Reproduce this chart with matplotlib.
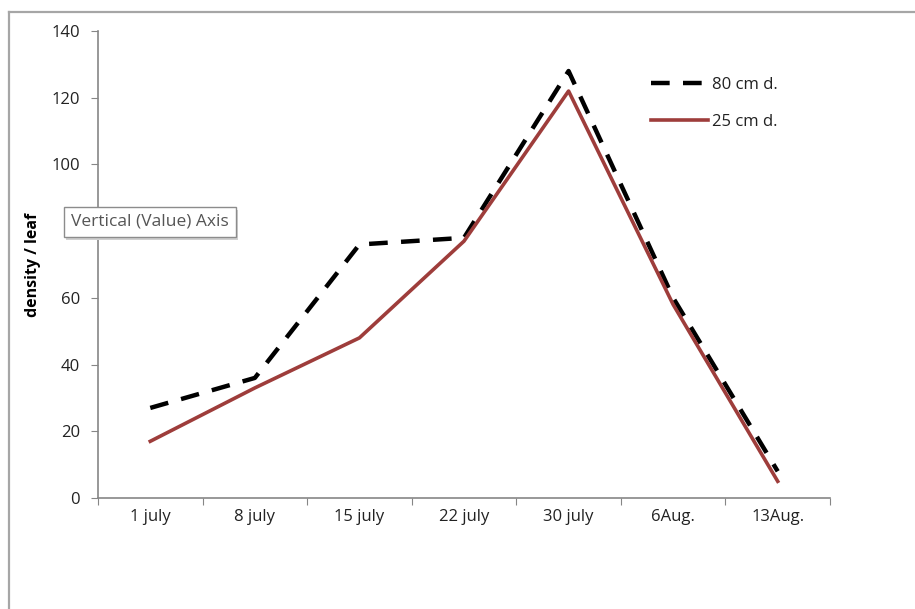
import numpy as np
import matplotlib.pyplot as plt
from matplotlib.lines import Line2D

plt.rcParams['font.family'] = ['Open Sans', 'DejaVu Sans']

# data
dates = ['1 july', '8 july', '15 july', '22 july', '30 july', '6Aug.', '13Aug.']
d80 = [27, 36, 76, 78, 128, 60, 8]
d25 = [17, 33, 48, 77, 122, 58, 5]
yticks = [0, 20, 40, 60, 80, 100, 120, 140]
# the "80" label is hidden under the hover tooltip in the screenshot
ylabels = ['0', '20', '40', '60', '', '100', '120', '140']

axis_grey = '#868686'
red = '#9E3D3B'
fs = 12

fig = plt.figure(figsize=(9.15, 6.09), dpi=100)
ax = fig.add_axes([98 / 915, 1 - 498 / 609, 732 / 915, 467 / 609])

x = np.arange(len(dates))
ax.plot(x, d80, color='black', linewidth=3.2, dashes=(4.2, 3.0),
        solid_capstyle='butt', dash_capstyle='butt', label='80 cm d.', zorder=3)
ax.plot(x, d25, color=red, linewidth=2.6, label='25 cm d.', zorder=4)

ax.set_xlim(-0.5, len(dates) - 0.5)
ax.set_ylim(0, 140)

# category boundaries get tick marks, labels sit in the middle
ax.set_xticks(np.arange(-0.5, len(dates), 1.0))
ax.set_xticklabels([])
ax.set_xticks(x, minor=True)
ax.set_xticklabels(dates, minor=True)
ax.tick_params(axis='x', which='major', direction='out', length=5, color=axis_grey)
ax.tick_params(axis='x', which='minor', length=0, pad=8, labelsize=fs, labelcolor='#222222')

ax.set_yticks(yticks)
ax.set_yticklabels(ylabels)
ax.tick_params(axis='y', direction='out', length=5, color=axis_grey, pad=8,
               labelsize=fs, labelcolor='#222222')

for side in ['top', 'right']:
    ax.spines[side].set_visible(False)
for side in ['left', 'bottom']:
    ax.spines[side].set_color(axis_grey)
    ax.spines[side].set_linewidth(1.2)

ax.set_ylabel('density / leaf', fontsize=11.5, fontweight='bold')
ax.yaxis.set_label_coords((41 - 98) / 732, 0.5)

leg = ax.legend(loc='upper left', bbox_to_anchor=(538 / 732, 1 - 31 / 467),
                frameon=False, handlelength=3.4, handletextpad=0.25,
                labelspacing=1.25, fontsize=fs)
for t in leg.get_texts():
    t.set_color('#222222')

# chart area border (top and left edges visible in the screenshot)
fig.add_artist(Line2D([9 / 915, 1.0], [1 - 11.5 / 609] * 2, color='#A6A6A6',
                      linewidth=1.6, transform=fig.transFigure))
fig.add_artist(Line2D([9 / 915] * 2, [0, 1 - 11.5 / 609], color='#A6A6A6',
                      linewidth=1.6, transform=fig.transFigure))

# hover tooltip over the value axis, with a soft shadow
fig.text(152 / 915, 1 - 225 / 609, 'Vertical (Value) Axis', ha='center', va='center',
         fontsize=12.5, color='#D8D8D8', zorder=9, alpha=0.0,
         bbox=dict(boxstyle='square,pad=0.4', facecolor='#D0D0D0', edgecolor='none'))
fig.text(150 / 915, 1 - 222 / 609, 'Vertical (Value) Axis', ha='center', va='center',
         fontsize=12.5, color='#555555', zorder=10,
         bbox=dict(boxstyle='square,pad=0.4', facecolor='white', edgecolor='#8C8C8C',
                   linewidth=1.0))

fig.savefig('out.png', dpi=100)
